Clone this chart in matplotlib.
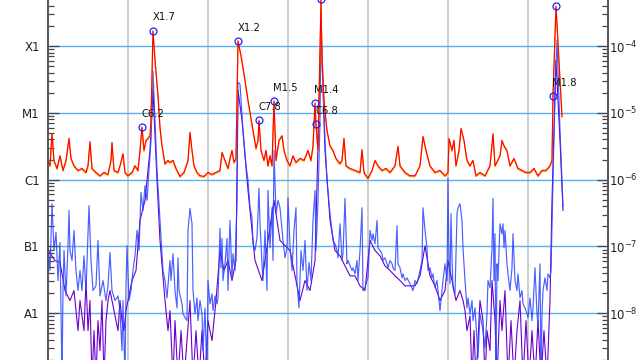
#GOES style X-ray flux plot, two channels with flare markers
import matplotlib
matplotlib.use('Agg')
import matplotlib.pyplot as plt
import matplotlib.transforms as mtransforms
import numpy as np

#Long channel (1-8 A), hours since start and log10 flux
long_hours = [0.0, 0.6, 1.2, 1.8, 2.7, 3.6, 4.5, 5.4, 6.3, 6.9, 7.8, 9.0, 10.2, 11.4, 12.0, 12.6, 13.2,
              14.4, 15.6, 16.8, 18.0, 18.9, 19.2, 19.8, 21.0, 21.6, 22.5, 23.1, 24.0, 25.2, 26.1, 27.0,
              27.6, 28.2, 28.8, 29.4, 30.0, 30.6, 30.9, 31.5, 32.1, 33.0, 33.6, 34.2, 35.1, 36.0, 36.6,
              37.5, 38.4, 39.6, 40.8, 42.0, 42.6, 43.2, 43.8, 44.7, 45.6, 46.8, 48.0, 49.2, 50.4, 51.6,
              52.2, 53.1, 54.0, 54.6, 55.2, 55.8, 56.4, 56.7, 57.0, 57.9, 59.1, 60.0, 60.6, 61.5, 62.4,
              63.0, 63.3, 63.9, 64.8, 65.4, 66.0, 66.6, 67.2, 67.8, 68.4, 69.3, 70.2, 70.8, 71.7, 72.6,
              73.5, 74.4, 75.6, 76.8, 78.0, 78.9, 79.5, 80.1, 80.4, 81.0, 81.9, 82.2, 82.8, 83.7, 84.6,
              85.5, 86.4, 87.6, 88.2, 88.8, 89.4, 90.6, 92.1, 93.6, 94.2, 94.8, 96.0, 97.2, 98.1, 99.0,
              100.2, 101.4, 102.6, 104.1, 105.0, 105.6, 107.1, 108.6, 110.1, 111.6, 112.5, 113.4, 114.6,
              116.1, 117.6, 119.1, 120.0, 120.3, 121.2, 121.8, 122.4, 123.3, 123.9, 124.8, 125.7, 126.6,
              127.5, 128.4, 129.6, 131.1, 132.6, 133.5, 134.1, 135.6, 136.2, 136.8, 137.7, 138.6, 139.8,
              141.0, 142.2, 143.4, 144.6, 145.8, 147.0, 148.2, 149.4, 150.6, 151.2, 151.5, 152.4, 153.3,
              154.2]
long_log = [-5.71, -5.79, -5.31, -5.71, -5.83, -5.64, -5.86, -5.71, -5.38, -5.68, -5.79, -5.86, -5.83,
            -5.89, -5.79, -5.43, -5.83, -5.89, -5.94, -5.89, -5.92, -5.71, -5.44, -5.86, -5.89, -5.79,
            -5.61, -5.89, -5.94, -5.89, -5.79, -5.86, -5.56, -5.21, -5.56, -5.41, -5.38, -5.34, -5.11,
            -3.77, -4.21, -4.74, -5.22, -5.49, -5.76, -5.71, -5.74, -5.71, -5.83, -5.95, -5.89, -5.71,
            -5.29, -5.56, -5.79, -5.89, -5.94, -5.95, -5.89, -5.92, -5.89, -5.86, -5.59, -5.71, -5.83,
            -5.68, -5.56, -5.74, -5.68, -4.81, -3.92, -4.14, -4.51, -4.81, -4.99, -5.26, -5.53, -5.41,
            -5.11, -5.56, -5.71, -5.56, -5.79, -5.64, -5.79, -4.82, -5.71, -5.41, -5.34, -5.56, -5.71,
            -5.79, -5.64, -5.74, -5.68, -5.71, -5.56, -5.71, -5.49, -4.85, -5.17, -5.56, -3.30, -4.21,
            -4.81, -5.26, -5.49, -5.56, -5.68, -5.76, -5.71, -5.38, -5.79, -5.83, -5.86, -5.89, -5.55,
            -5.89, -5.98, -5.86, -5.71, -5.79, -5.86, -5.83, -5.89, -5.79, -5.50, -5.79, -5.89, -5.94,
            -5.94, -5.79, -5.35, -5.56, -5.79, -5.89, -5.86, -5.94, -5.89, -5.38, -5.56, -5.41, -5.79,
            -5.56, -5.23, -5.41, -5.71, -5.79, -5.71, -5.94, -5.89, -5.94, -5.79, -5.31, -5.79, -5.64,
            -5.41, -5.49, -5.56, -5.79, -5.68, -5.83, -5.86, -5.89, -5.89, -5.83, -5.94, -5.86, -5.86,
            -5.79, -5.71, -4.74, -3.40, -4.21, -5.05]

#Short channel (0.5-4 A), primary satellite
short_hours = [0.0, 0.6, 1.2, 1.8, 2.4, 3.0, 3.6, 4.2, 4.5, 4.8, 5.4, 6.0, 6.3, 6.6, 7.2, 7.8, 8.4,
               9.0, 9.6, 10.2, 10.8, 11.4, 12.3, 12.9, 13.5, 14.4, 15.0, 15.6, 16.5, 17.4, 18.0, 18.6,
               19.2, 20.1, 21.0, 21.6, 22.2, 22.5, 23.1, 23.4, 23.7, 24.3, 24.9, 25.5, 26.1, 26.7, 27.3,
               27.9, 28.5, 29.1, 29.7, 30.3, 30.9, 31.5, 32.1, 32.7, 33.6, 34.5, 35.1, 35.7, 36.6, 36.9,
               37.5, 38.1, 38.7, 39.0, 39.3, 40.2, 40.5, 41.7, 42.0, 42.6, 43.2, 43.5, 44.1, 44.7, 45.0,
               45.6, 46.2, 46.5, 47.1, 47.7, 48.0, 48.6, 49.2, 49.5, 50.1, 50.7, 51.0, 51.6, 51.9, 52.2,
               52.5, 53.1, 53.7, 54.0, 54.6, 55.2, 55.5, 56.1, 56.7, 57.0, 57.6, 58.5, 59.4, 60.0, 60.6,
               61.2, 61.5, 62.1, 62.7, 63.3, 63.6, 64.2, 64.5, 65.1, 65.7, 66.0, 66.6, 67.2, 67.5, 67.8,
               68.4, 69.0, 69.6, 70.5, 71.1, 71.7, 72.0, 72.6, 73.2, 73.8, 74.4, 74.7, 75.3, 75.9, 76.5,
               77.1, 77.7, 78.3, 78.9, 79.5, 80.1, 80.4, 81.0, 81.6, 81.9, 82.5, 83.1, 83.7, 84.6, 85.2,
               85.5, 86.1, 86.7, 87.0, 87.6, 88.2, 88.5, 89.1, 89.7, 90.0, 91.2, 91.5, 92.1, 92.7, 93.0,
               93.6, 94.2, 94.5, 95.1, 95.7, 96.0, 96.6, 97.2, 97.5, 98.1, 98.7, 99.0, 99.6, 100.2, 100.5,
               101.1, 101.7, 102.0, 102.6, 103.2, 103.5, 104.1, 104.7, 105.0, 105.6, 106.2, 106.5, 107.1,
               107.7, 108.6, 109.5, 110.1, 110.7, 111.6, 112.2, 112.5, 113.1, 113.7, 114.0, 114.6, 115.2,
               115.5, 116.1, 116.7, 117.0, 117.6, 118.2, 118.5, 119.1, 119.7, 120.0, 120.3, 120.6, 120.9,
               121.2, 121.5, 122.1, 122.7, 123.0, 123.6, 124.2, 124.5, 125.1, 125.7, 126.0, 126.6, 127.2,
               127.5, 128.1, 128.7, 129.0, 129.6, 130.5, 131.1, 131.7, 132.0, 132.6, 133.2, 133.5, 133.8,
               134.1, 134.4, 134.7, 135.0, 135.6, 136.2, 136.5, 136.8, 137.1, 137.7, 138.0, 138.6, 139.2,
               139.5, 140.1, 140.7, 141.0, 141.6, 142.2, 142.5, 143.1, 143.7, 144.0, 144.6, 145.2, 145.5,
               146.1, 146.7, 147.0, 147.6, 147.9, 148.2, 148.5, 149.1, 149.7, 150.0, 150.6, 150.9, 151.5,
               152.1, 152.7, 153.6, 154.5]
short_log = [-6.99, -7.36, -6.36, -7.06, -6.79, -7.51, -6.94, -9.00, -7.66, -7.06, -7.74, -6.99, -6.46,
             -7.06, -7.21, -6.76, -7.36, -7.66, -7.36, -7.66, -7.14, -7.66, -6.39, -7.21, -7.66, -7.59,
             -6.91, -7.74, -7.51, -7.81, -7.59, -7.09, -7.66, -7.81, -7.74, -7.96, -8.56, -7.81, -9.00,
             -7.59, -6.99, -7.81, -7.66, -7.36, -7.14, -6.76, -7.06, -6.19, -6.46, -6.09, -6.31, -5.86,
             -5.41, -4.38, -5.11, -5.86, -6.61, -7.36, -7.51, -7.77, -7.21, -7.51, -7.11, -7.66, -7.92,
             -7.17, -7.66, -7.86, -8.01, -8.11, -6.76, -6.43, -6.66, -7.66, -8.01, -7.77, -8.11, -7.81,
             -8.01, -8.56, -7.92, -9.00, -7.51, -7.86, -7.71, -7.96, -7.74, -7.86, -7.77, -6.73, -7.32,
             -6.88, -7.51, -7.26, -6.88, -7.66, -6.61, -7.47, -7.11, -7.36, -6.31, -4.54, -4.57, -5.26,
             -5.79, -6.01, -6.42, -6.57, -6.96, -7.06, -6.87, -6.13, -6.66, -7.26, -7.51, -6.76, -7.66,
             -6.16, -7.02, -6.42, -7.21, -5.56, -6.51, -6.31, -6.42, -6.91, -7.17, -7.02, -6.27, -6.99,
             -7.36, -6.76, -6.42, -7.54, -7.92, -7.06, -7.36, -6.91, -7.66, -7.24, -7.51, -6.61, -6.16,
             -7.06, -6.31, -5.11, -3.61, -4.51, -5.41, -6.01, -6.51, -6.76, -6.91, -6.96, -7.06, -7.17,
             -6.66, -7.21, -7.11, -6.28, -7.26, -7.21, -7.36, -7.32, -7.41, -7.21, -7.51, -7.06, -6.42,
             -7.66, -7.62, -7.51, -7.47, -6.76, -6.91, -6.81, -6.96, -6.61, -7.02, -7.06, -7.11, -7.21,
             -7.17, -7.26, -7.32, -7.21, -7.26, -7.32, -7.36, -6.69, -7.26, -7.32, -7.47, -7.41, -7.51,
             -7.47, -7.56, -7.66, -7.51, -7.56, -7.36, -7.21, -6.42, -6.76, -7.02, -7.36, -7.32, -7.47,
             -7.41, -7.62, -7.51, -7.66, -7.96, -7.66, -7.51, -7.26, -7.51, -5.98, -7.21, -7.56, -6.51,
             -7.17, -7.62, -7.71, -6.51, -6.42, -6.36, -6.61, -7.02, -7.51, -7.92, -7.77, -8.01, -7.81,
             -8.11, -7.92, -8.41, -8.67, -8.01, -8.26, -8.52, -8.01, -7.51, -7.62, -7.02, -6.28, -7.51,
             -6.81, -9.00, -7.26, -7.51, -6.66, -6.81, -6.66, -7.02, -6.76, -7.26, -7.41, -7.66, -7.32,
             -6.81, -7.51, -7.66, -7.41, -7.77, -7.66, -7.86, -7.92, -8.01, -8.07, -7.77, -8.11, -7.92,
             -7.32, -8.01, -8.16, -7.26, -9.00, -8.01, -7.66, -7.47, -7.66, -7.41, -7.47, -7.36, -6.01,
             -4.66, -3.91, -5.26, -6.40]

#Short channel, secondary satellite (purple)
second_hours = [0.0, 2.1, 3.6, 5.1, 6.6, 7.8, 8.4, 9.0, 9.6, 10.8, 11.4, 12.0, 12.6, 13.2, 13.8, 14.4,
                15.0, 15.6, 16.2, 16.8, 17.4, 18.0, 18.6, 19.8, 21.0, 21.6, 22.2, 22.8, 23.4, 24.0, 25.2,
                26.4, 27.6, 29.1, 30.6, 31.5, 32.7, 33.6, 35.1, 36.0, 36.6, 37.5, 38.1, 39.0, 39.9, 40.8,
                41.7, 42.6, 43.5, 44.4, 45.3, 46.2, 47.1, 48.0, 49.2, 50.4, 51.6, 52.8, 54.0, 55.2, 56.4,
                57.0, 58.2, 60.0, 62.1, 64.2, 66.0, 67.8, 69.6, 72.6, 75.6, 77.1, 78.6, 80.1, 81.9, 83.1,
                84.6, 86.1, 87.6, 89.1, 90.6, 92.1, 93.6, 95.1, 96.6, 98.1, 99.6, 101.1, 102.6, 104.1,
                105.6, 107.1, 108.6, 110.1, 111.6, 113.1, 114.6, 116.1, 117.6, 119.1, 120.0, 121.2, 122.4,
                123.6, 124.5, 125.1, 125.7, 126.6, 127.2, 127.8, 128.4, 129.0, 129.6, 130.5, 131.1, 131.7,
                132.6, 133.2, 134.1, 134.7, 135.6, 136.2, 137.1, 138.0, 138.9, 139.8, 140.7, 141.6, 142.5,
                143.4, 144.3, 145.2, 146.1, 147.0, 147.9, 148.8, 149.7, 150.6, 151.2, 152.4, 153.6, 154.5]
second_log = [-7.06, -7.21, -7.24, -7.66, -7.81, -7.66, -7.96, -8.26, -7.81, -8.26, -7.51, -8.26, -7.81,
              -9.00, -8.26, -9.00, -8.11, -8.56, -7.81, -9.00, -8.11, -7.81, -7.66, -7.96, -8.26, -7.81,
              -8.11, -8.26, -7.96, -7.81, -7.51, -7.36, -6.61, -6.31, -5.56, -4.66, -6.01, -6.91, -7.81,
              -8.26, -7.96, -9.00, -8.11, -9.00, -8.26, -9.00, -8.41, -7.81, -9.00, -8.26, -9.00, -8.26,
              -9.00, -8.11, -8.41, -7.81, -7.06, -7.36, -7.21, -7.51, -7.21, -4.66, -5.11, -6.16, -7.21,
              -7.51, -6.91, -6.31, -6.91, -7.06, -7.81, -7.51, -7.66, -7.21, -3.76, -5.56, -6.61, -7.06,
              -7.14, -7.29, -7.44, -7.44, -7.59, -7.66, -6.91, -7.06, -7.14, -7.29, -7.36, -7.44, -7.51,
              -7.59, -7.59, -7.59, -7.44, -6.99, -7.44, -7.59, -7.81, -7.66, -7.21, -7.51, -7.81, -7.66,
              -7.81, -7.96, -8.26, -8.04, -9.00, -8.26, -9.00, -8.41, -7.81, -8.11, -9.00, -8.26, -8.56,
              -7.51, -8.11, -9.00, -7.81, -8.26, -7.66, -9.00, -8.11, -9.00, -8.26, -7.81, -9.00, -8.11,
              -9.00, -8.26, -9.00, -8.11, -9.00, -8.26, -9.00, -7.81, -6.31, -4.21, -5.41, -6.46]

#Flares picked out by the event list
flare_hours = [28.2, 31.5, 57.0, 63.3, 67.8, 80.1, 80.4, 81.9, 151.5, 152.4]
flare_flux = [6.2e-6, 1.7e-4, 1.2e-4, 7.8e-6, 1.5e-5, 1.4e-5, 6.8e-6, 5.0e-4, 1.8e-5, 4.0e-4]
flare_labels = ['C6.2', 'X1.7', 'X1.2', 'C7.8', 'M1.5', 'M1.4', 'C6.8', '', 'M1.8', '']

#Class letters and power labels for the y axes
class_levels = [1e-8, 1e-7, 1e-6, 1e-5, 1e-4]
class_names = ['A1', 'B1', 'C1', 'M1', 'X1']
power_names = ['$10^{-8}$', '$10^{-7}$', '$10^{-6}$', '$10^{-5}$', '$10^{-4}$']

long_flux = 10 ** np.array(long_log)
short_flux = 10 ** np.array(short_log)
second_flux = 10 ** np.array(second_log)

fig = plt.figure(figsize=(6.4, 3.6), dpi=100)
ax = fig.add_axes([48 / 640, 0, 560 / 640, 1])

#Orange fringe under the red trace, shifted one pixel down
shift = mtransforms.offset_copy(ax.transData, fig=fig, x=0, y=-1.0, units='dots')
ax.plot(long_hours, long_flux, color='#ff9a00', lw=0.9, transform=shift, zorder=3)
ax.plot(long_hours, long_flux, color='#ff0000', lw=0.8, zorder=4)
ax.plot(second_hours, second_flux, color='#6a00cc', lw=0.8, zorder=2)
ax.plot(short_hours, short_flux, color='#2a44ff', lw=0.85, alpha=0.85, zorder=2.5)

#Flare markers and labels
ax.plot(flare_hours, flare_flux, 'o', mfc='none', mec='#2020ff', ms=5, mew=0.9, zorder=5)
for h, f, lab in zip(flare_hours, flare_flux, flare_labels):
    if lab:
        ax.annotate(lab, (h, f), xytext=(-0.5, 9.5), textcoords='offset points',
                    ha='left', va='center', fontsize=7.2, color='#111111', zorder=6)

ax.set_yscale('log')
ax.set_ylim(10 ** -8.70, 10 ** -3.31)
ax.set_xlim(0, 168)

#Gridlines: gray per day, blue per decade
for d in range(24, 168, 24):
    ax.axvline(d, color='#c8c8c8', lw=1.3, zorder=1)
for lev in class_levels:
    ax.axhline(lev, color='#5ab0f0', lw=1.0, zorder=1)

ax.set_xticks([])
ax.set_yticks(class_levels)
ax.set_yticklabels(class_names, fontsize=8.5, color='#222222')
ax.tick_params(axis='y', which='major', direction='in', length=8, width=0.9, pad=6, color='#444444')
ax.tick_params(axis='y', which='minor', direction='in', length=4, width=0.9, color='#444444')
ax.yaxis.set_minor_formatter(plt.NullFormatter())

ax2 = ax.twinx()
ax2.set_yscale('log')
ax2.set_ylim(ax.get_ylim())
ax2.set_yticks(class_levels)
ax2.set_yticklabels(power_names, fontsize=8.5, color='#222222')
ax2.tick_params(axis='y', which='major', direction='in', length=8, width=0.9, pad=1, color='#444444')
ax2.tick_params(axis='y', which='minor', direction='in', length=4, width=0.9, color='#444444')
ax2.yaxis.set_minor_formatter(plt.NullFormatter())

for a in (ax, ax2):
    a.spines['top'].set_visible(False)
    a.spines['bottom'].set_visible(False)
    a.spines['left'].set_color('#555555')
    a.spines['right'].set_color('#555555')
    a.spines['left'].set_linewidth(1.2)
    a.spines['right'].set_linewidth(1.2)

plt.savefig('out.png', dpi=100)
